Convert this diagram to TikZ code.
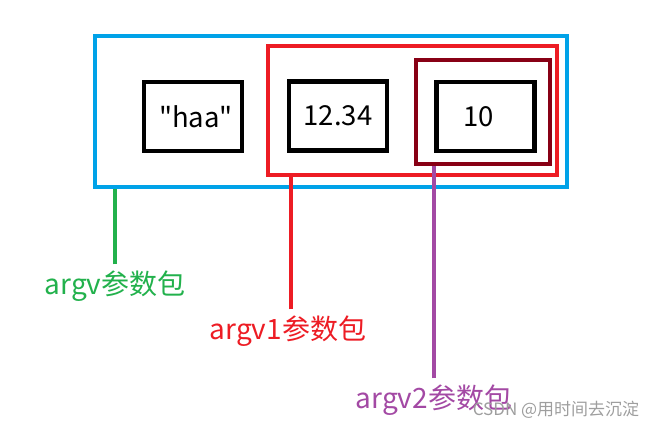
\documentclass[tikz,border=0pt]{standalone}
\usepackage{fontspec}
\newfontfamily\cjk{Noto Sans CJK SC}
\definecolor{paintblue}{RGB}{0,162,232}
\definecolor{paintred}{RGB}{237,28,36}
\definecolor{paintwine}{RGB}{136,0,21}
\definecolor{paintgreen}{RGB}{34,177,76}
\definecolor{paintpurple}{RGB}{163,73,164}
\tikzset{
  val/.style={draw=black, line width=4.2pt, minimum width=98pt, minimum height=69pt,
    inner sep=0pt, font=\cjk\fontsize{27.5}{32}\selectfont},
  pack/.style={draw=#1, line width=4.2pt, inner sep=0pt},
  tag/.style={text=#1, inner sep=6pt, font=\cjk\fontsize{28}{34}\selectfont},
  lead/.style={draw=#1, line width=4.4pt},
}
\begin{document}
\begin{tikzpicture}[x=1pt,y=-1pt]
      \useasboundingbox (0,0) rectangle (652,428);
      % parameter packs
      \node[pack=paintblue, minimum width=472pt, minimum height=151pt] (pack) at (331,111.5) {};
      \node[pack=paintred, minimum width=289pt, minimum height=129pt] (pack1) at (412.5,110.8) {};
      \node[pack=paintwine, minimum width=134pt, minimum height=104pt] (pack2) at (482.6,111.7) {};
      % values
      \node[val] (haa) at (193,116.5) {\hspace*{6pt}"haa"};
      \node[val] (num) at (338,116) {12.34};
      \node[val] (ten) at (485.5,116.5) {10\hspace*{14pt}};
      % labels
      \node[tag=paintgreen] (lab) at (115,286) {argv参数包};
      \node[tag=paintred] (lab1) at (288,331) {argv1参数包};
      \node[tag=paintpurple] (lab2) at (434,400) {argv2参数包};
      \begin{scope}
        \draw[lead=paintgreen] (lab.north) -- (lab.north |- pack.south);
        \draw[lead=paintred] ([xshift=3pt]lab1.north) -- ([xshift=3pt]lab1.north |- pack1.south);
        \draw[lead=paintpurple] (lab2.north) -- (lab2.north |- pack2.south);
      \end{scope}
      \node[text=black!38, inner sep=0pt, font=\cjk\fontsize{17}{20}\selectfont] (mark) at (556,410) {CSDN @用时间去沉淀};
    \end{tikzpicture}
\end{document}
